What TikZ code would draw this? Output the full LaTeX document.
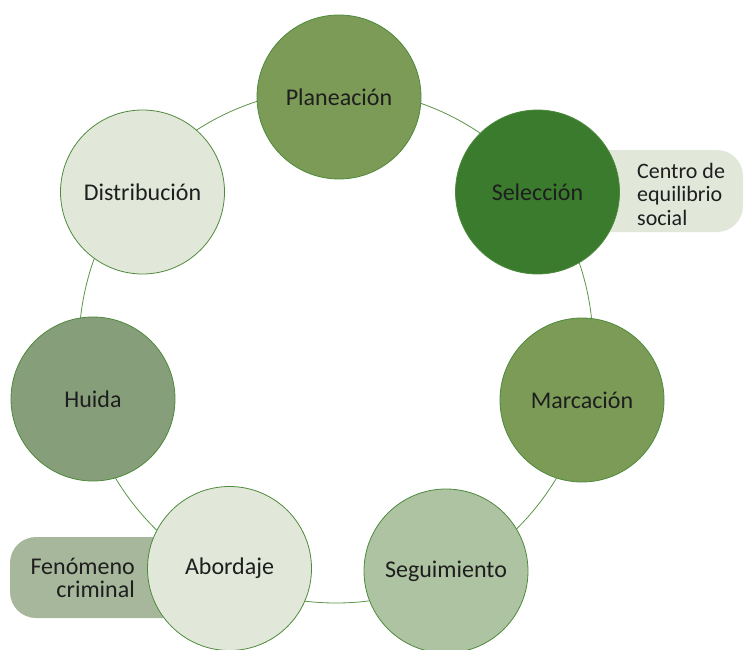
\documentclass[tikz,border=0pt]{standalone}
\usepackage{fontspec}
\setmainfont{Carlito}
\definecolor{ringc}{HTML}{5A9447}
\definecolor{edgec}{HTML}{4E8A3C}
\definecolor{cmid}{HTML}{7B9B57}
\definecolor{cdark}{HTML}{3A7B2E}
\definecolor{csoft}{HTML}{AEC3A1}
\definecolor{clight}{HTML}{E1E8D9}
\definecolor{chuida}{HTML}{869E79}
\definecolor{cbox}{HTML}{A6B79C}
\definecolor{txt}{HTML}{1E1E1E}
\begin{document}
\begin{tikzpicture}[x=1pt,y=-1pt,
  stage/.style={circle,draw=edgec,line width=0.8pt,minimum size=164pt,inner sep=0pt,
    font=\fontsize{24}{28}\selectfont,text=txt},
  sidetext/.style={inner sep=0pt,text=txt}]
\useasboundingbox (0,0) rectangle (744,650);
% ring
\draw[ringc,line width=0.8pt] (336,346) circle [radius=257pt];
% side boxes
\fill[clight,rounded corners=26pt] (560,150) rectangle (743,232);
\fill[cbox,rounded corners=26pt] (10,537) rectangle (250,618);
% stages
\node[stage,fill=cmid]   (plan) at (339,97)    {Planeación};
\node[stage,fill=cdark]  (sel)  at (537.5,192) {Selección};
\node[stage,fill=cmid]   (mar)  at (582,400)   {Marcación};
\node[stage,fill=csoft]  (seg)  at (446,571)   {Seguimiento};
\node[stage,fill=clight] (abo)  at (229.5,568.5) {Abordaje};
\node[stage,fill=chuida] (hui)  at (93,399)    {Huida};
\node[stage,fill=clight] (dis)  at (142.5,192) {Distribución};
% side texts
\node[sidetext,anchor=west,align=left,font=\fontsize{22}{23.5}\selectfont] (centro) at (637,194) {Centro de\\equilibrio\\social};
\node[sidetext,anchor=east,align=right,font=\fontsize{24}{23.5}\selectfont] (feno) at (135,578) {Fenómeno\\criminal};
\end{tikzpicture}
\end{document}
